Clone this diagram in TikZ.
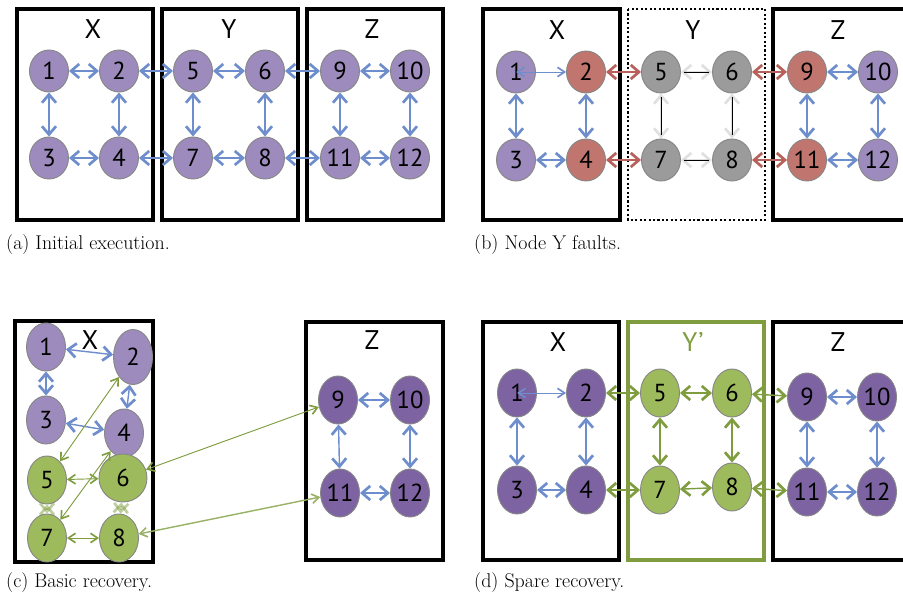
\documentclass[tikz,border=0pt]{standalone}
\usepackage{fontspec}
\setsansfont{PT Sans}
\usetikzlibrary{shapes.geometric,arrows.meta}

\definecolor{procpurple}{HTML}{9C8BBC}
\definecolor{procdark}{HTML}{7D63A2}
\definecolor{procred}{HTML}{C0766F}
\definecolor{procgrey}{HTML}{9B9B9B}
\definecolor{procgreen}{HTML}{9DBB5C}
\definecolor{procrim}{HTML}{878787}
\definecolor{linkblue}{HTML}{6E8DCC}
\definecolor{linkred}{HTML}{B8605A}
\definecolor{linkgreen}{HTML}{7F9D3F}

\begin{document}
\begin{tikzpicture}[x=0.03cm, y=-0.03cm,
                every node/.style={inner sep=0pt},
                proc/.style={ellipse, draw=procrim, line width=0.8pt, minimum width=1.17cm,
                  minimum height=1.26cm, font=\sffamily\fontsize{21}{21}\selectfont},
                tall/.style={minimum height=1.44cm},
                box_style/.style={draw=black, line width=2.7pt},
                label_style/.style={font=\sffamily\fontsize{23}{23}\selectfont},
                caption_style/.style={anchor=west, font=\fontsize{17}{17}\selectfont},
                link/.style={line width=1.2pt, >={Straight Barb[length=7pt,width=12pt,line width=2.3pt]}, <->},
                thin_link/.style={line width=0.8pt, >={Straight Barb[length=6pt,width=8pt,line width=1.4pt]}, <->},
                blue_edge/.style={link, draw=linkblue},
                red_edge/.style={link, draw=linkred},
                green_edge/.style={link, draw=linkgreen}]
                \tikzset{ghost edge/.style={link, draw=black, opacity=0.12},
                         dead edge/.style={draw=black, line width=0.8pt, shorten <=3pt, shorten >=3pt}}
                \useasboundingbox (0,0) rectangle (903,597);

                % (a) initial execution
                \draw [box_style] (17,9) rectangle (153,220);
                \draw [box_style] (162,9) rectangle (298,220);
                \draw [box_style] (307,9) rectangle (443,220);
                \node [label_style] (aX) at (93,29) {X};
                \node [label_style] (aY) at (229,29) {Y};
                \node [label_style] (aZ) at (372,29) {Z};
                \node [proc, fill=procpurple] (a1) at (49,71) {1};
                \node [proc, fill=procpurple] (a2) at (119,71) {2};
                \node [proc, fill=procpurple] (a5) at (193,71) {5};
                \node [proc, fill=procpurple] (a6) at (265,71) {6};
                \node [proc, fill=procpurple] (a9) at (340,71) {9};
                \node [proc, fill=procpurple] (a10) at (410,71) {10};
                \node [proc, fill=procpurple] (a3) at (49,158) {3};
                \node [proc, fill=procpurple] (a4) at (119,158) {4};
                \node [proc, fill=procpurple] (a7) at (193,158) {7};
                \node [proc, fill=procpurple] (a8) at (265,158) {8};
                \node [proc, fill=procpurple] (a11) at (340,158) {11};
                \node [proc, fill=procpurple] (a12) at (410,158) {12};
                \draw [blue_edge] (a1) -- (a2);
                \draw [blue_edge] (a2) -- (a5);
                \draw [blue_edge] (a5) -- (a6);
                \draw [blue_edge] (a6) -- (a9);
                \draw [blue_edge] (a9) -- (a10);
                \draw [blue_edge] (a3) -- (a4);
                \draw [blue_edge] (a4) -- (a7);
                \draw [blue_edge] (a7) -- (a8);
                \draw [blue_edge] (a8) -- (a11);
                \draw [blue_edge] (a11) -- (a12);
                \draw [blue_edge] (a1) -- (a3);
                \draw [blue_edge] (a2) -- (a4);
                \draw [blue_edge] (a5) -- (a7);
                \draw [blue_edge] (a6) -- (a8);
                \draw [blue_edge] (a9) -- (a11);
                \draw [blue_edge] (a10) -- (a12);
                \node [caption_style] (capa) at (6,245) {(a) Initial execution.};

                % (b) node Y faults
                \draw [box_style] (483,9) rectangle (620,220);
                \draw [draw=black, line width=1.8pt, dotted] (628,9) rectangle (765,220);
                \draw [box_style] (915,9) -- (773,9) -- (773,220) -- (915,220);
                \node [label_style] (bX) at (557,30) {X};
                \node [label_style] (bY) at (693,30) {Y};
                \node [label_style] (bZ) at (838,30) {Z};
                \node [proc, fill=procpurple] (b1) at (516,72) {1};
                \node [proc, fill=procred] (b2) at (586,72) {2};
                \node [proc, fill=procgrey] (b5) at (661,72) {5};
                \node [proc, fill=procgrey] (b6) at (732,72) {6};
                \node [proc, fill=procred] (b9) at (807,72) {9};
                \node [proc, fill=procpurple] (b10) at (878,72) {10};
                \node [proc, fill=procpurple] (b3) at (516,160) {3};
                \node [proc, fill=procred] (b4) at (586,160) {4};
                \node [proc, fill=procgrey] (b7) at (661,160) {7};
                \node [proc, fill=procgrey] (b8) at (732,160) {8};
                \node [proc, fill=procred] (b11) at (807,160) {11};
                \node [proc, fill=procpurple] (b12) at (878,160) {12};
                \draw [thin_link, draw=linkblue] (b1.center) -- (b2);
                \draw [blue_edge] (b1) -- (b3);
                \draw [blue_edge] (b2) -- (b4);
                \draw [blue_edge] (b3) -- (b4);
                \draw [red_edge] (b2) -- (b5);
                \draw [red_edge] (b4) -- (b7);
                \draw [red_edge] (b6) -- (b9);
                \draw [red_edge] (b8) -- (b11);
                \draw [ghost edge] (b5) -- (b6);
                \draw [ghost edge] (b7) -- (b8);
                \draw [ghost edge] (b5) -- (b7);
                \draw [ghost edge] (b6) -- (b8);
                \draw [dead edge] (b5) -- (b6);
                \draw [dead edge] (b7) -- (b8);
                \draw [dead edge] (b5) -- (b7);
                \draw [dead edge] (b6) -- (b8);
                \draw [blue_edge] (b9) -- (b10);
                \draw [blue_edge] (b11) -- (b12);
                \draw [blue_edge] (b9) -- (b11);
                \draw [blue_edge] (b10) -- (b12);
                \node [caption_style] (capb) at (474,245) {(b) Node Y faults.};

                % (c) basic recovery
                \draw [box_style] (15,321) rectangle (153,562);
                \draw [box_style] (306,322) rectangle (443,560);
                \node [proc, tall, fill=procpurple] (c1) at (46,347) {1};
                \node [proc, tall, fill=procpurple, minimum height=1.65cm] (c2) at (133,357) {2};
                \node [proc, tall, fill=procpurple] (c3) at (46,420) {3};
                \node [proc, tall, fill=procpurple] (c4) at (124,433) {4};
                \node [proc, tall, fill=procgreen] (c5) at (47,480) {5};
                \node [proc, tall, fill=procgreen, minimum width=1.44cm] (c6) at (123,478) {6};
                \node [proc, tall, fill=procgreen] (c7) at (47,538) {7};
                \node [proc, tall, fill=procgreen] (c8) at (119,538) {8};
                \node [proc, tall, fill=procdark] (c9) at (338,400) {9};
                \node [proc, tall, fill=procdark] (c10) at (410,400) {10};
                \node [proc, tall, fill=procdark] (c11) at (340,493) {11};
                \node [proc, tall, fill=procdark] (c12) at (410,493) {12};
                \node [label_style] (cX) at (90,340) {X};
                \node [label_style] (cZ) at (372,340) {Z};
                \draw [blue_edge] (c1) -- (c2);
                \draw [blue_edge] (c1) -- (c3);
                \draw [blue_edge] (c2) -- (c4);
                \draw [blue_edge] (c3) -- (c4);
                \draw [thin_link, draw=linkgreen] (c2) -- (c5);
                \draw [thin_link, draw=linkgreen] (c4) -- (c7);
                \draw [thin_link, draw=linkgreen] (c5) -- (c6);
                \draw [thin_link, draw=linkgreen] (c7) -- (c8);
                \draw [green_edge, opacity=0.5] (c5) -- (c7);
                \draw [green_edge, opacity=0.5] (c6) -- (c8);
                \draw [thin_link, draw=linkgreen] (c6) -- (c9);
                \draw [thin_link, draw=linkgreen!80, line width=1.2pt] (c8) -- (c11);
                \draw [blue_edge] (c9) -- (c10);
                \draw [blue_edge] (c9) -- (c11);
                \draw [blue_edge] (c10) -- (c12);
                \draw [blue_edge] (c11) -- (c12);
                \node [caption_style] (capc) at (6,583) {(c) Basic recovery.};

                % (d) spare recovery
                \draw [box_style] (483,322) rectangle (619,560);
                \draw [draw=linkgreen, line width=2.7pt] (628,322) rectangle (764,560);
                \draw [box_style] (915,322) -- (773,322) -- (773,560) -- (915,560);
                \node [label_style] (dX) at (558,342) {X};
                \node [label_style, text=linkgreen] (dY) at (693,342) {Y'};
                \node [label_style] (dZ) at (838,342) {Z};
                \node [proc, tall, fill=procdark] (d1) at (517,393) {1};
                \node [proc, tall, fill=procdark] (d2) at (586,393) {2};
                \node [proc, tall, fill=procgreen] (d5) at (660,393) {5};
                \node [proc, tall, fill=procgreen] (d6) at (732,393) {6};
                \node [proc, tall, fill=procdark] (d9) at (807,397) {9};
                \node [proc, tall, fill=procdark] (d10) at (877,397) {10};
                \node [proc, tall, fill=procdark] (d3) at (517,490) {3};
                \node [proc, tall, fill=procdark] (d4) at (586,490) {4};
                \node [proc, tall, fill=procgreen] (d7) at (660,490) {7};
                \node [proc, tall, fill=procgreen] (d8) at (732,487) {8};
                \node [proc, tall, fill=procdark] (d11) at (807,492) {11};
                \node [proc, tall, fill=procdark] (d12) at (877,492) {12};
                \draw [thin_link, draw=linkblue] (d1.center) -- (d2);
                \draw [blue_edge] (d1) -- (d3);
                \draw [blue_edge] (d2) -- (d4);
                \draw [blue_edge] (d3) -- (d4);
                \draw [green_edge] (d2) -- (d5);
                \draw [green_edge] (d4) -- (d7);
                \draw [green_edge] (d5) -- (d6);
                \draw [green_edge] (d7) -- (d8);
                \draw [green_edge] (d5) -- (d7);
                \draw [green_edge] (d6) -- (d8);
                \draw [green_edge] (d6) -- (d9);
                \draw [green_edge] (d8) -- (d11);
                \draw [blue_edge] (d9) -- (d10);
                \draw [blue_edge] (d11) -- (d12);
                \draw [blue_edge] (d9) -- (d11);
                \draw [blue_edge] (d10) -- (d12);
                \node [caption_style] (capd) at (474,583) {(d) Spare recovery.};
            \end{tikzpicture}
\end{document}
